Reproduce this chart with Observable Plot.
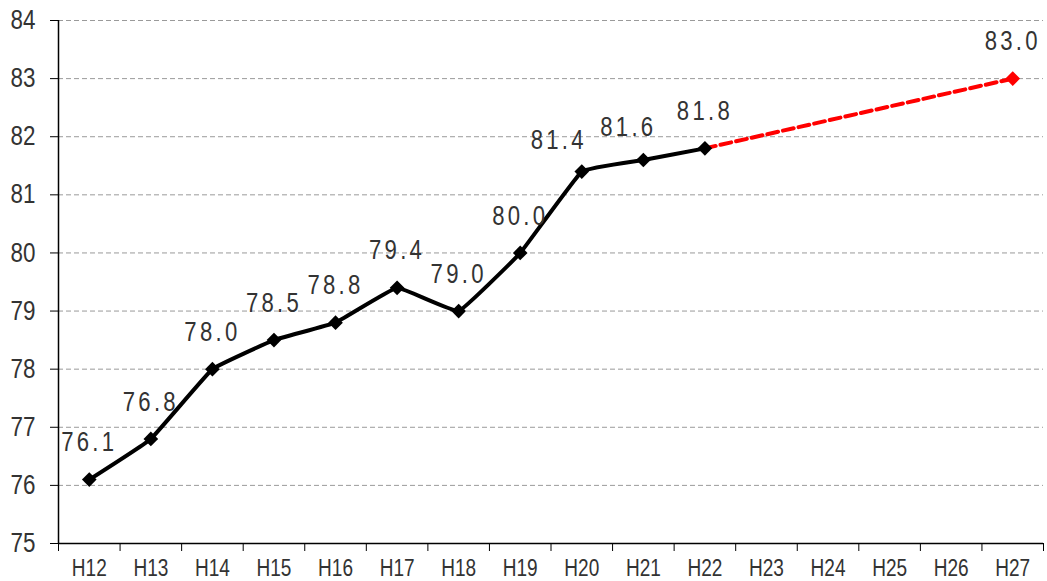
<!DOCTYPE html>
<html>
<head>
<meta charset="utf-8">
<script src="https://cdn.jsdelivr.net/npm/d3@7"></script>
<script src="https://cdn.jsdelivr.net/npm/@observablehq/plot@0.6"></script>
<style>
  html, body { margin: 0; padding: 0; background: #fff; }
  #chart svg { display: block; }
  .ylab text { font-family: "Liberation Sans", Arial, sans-serif; font-size: 27px; fill: #333; }
  .xlab text { font-family: "Liberation Sans", Arial, sans-serif; font-size: 23.5px; fill: #333; }
  .vlab text { font-family: "Liberation Sans", Arial, sans-serif; font-size: 27px; fill: #333; letter-spacing: 4px; }
</style>
</head>
<body>
<div id="chart"></div>
<script>
const years = ["H12","H13","H14","H15","H16","H17","H18","H19","H20","H21","H22","H23","H24","H25","H26","H27"];
const actualYears = ["H12","H13","H14","H15","H16","H17","H18","H19","H20","H21","H22"];
const actualValues = [76.1, 76.8, 78.0, 78.5, 78.8, 79.4, 79.0, 80.0, 81.4, 81.6, 81.8];
const targetYears = ["H22","H27"];
const targetValues = [81.8, 83.0];
const yTicks = [75, 76, 77, 78, 79, 80, 81, 82, 83, 84];

const actual = actualYears.map((k, i) => ({i: years.indexOf(k), v: actualValues[i], k}));
const target = targetYears.map((k, i) => ({i: years.indexOf(k), v: targetValues[i], k}));
const targetEnd = target.slice(1);
const idx = d3.range(years.length);
const bounds = d3.range(years.length + 1).map(i => i - 0.5);
const fmt = d => d.v.toFixed(1);

const chart = Plot.plot({
  width: 1047,
  height: 581,
  marginLeft: 58,
  marginRight: 4,
  marginTop: 20,
  marginBottom: 38,
  x: {type: "linear", domain: [-0.5, years.length - 0.5]},
  y: {domain: [75, 84]},
  marks: [
    Plot.ruleY(yTicks.slice(1), {stroke: "#9a9a9a", strokeDasharray: "5,3", strokeWidth: 1}),
    Plot.axisY({ticks: yTicks, tickSize: 8, tickPadding: 15, stroke: "#000", className: "ylab", label: null, tickFormat: d => String(d)}),
    Plot.axisX({ticks: idx, tickSize: 0, tickPadding: 16, className: "xlab", label: null, tickFormat: i => years[i]}),
    Plot.axisX({ticks: bounds, tickSize: 8, tickFormat: () => "", label: null, stroke: "#000"}),
    Plot.ruleX([-0.5], {stroke: "#000", strokeWidth: 1.5}),
    Plot.ruleY([75], {stroke: "#000", strokeWidth: 1.5}),
    Plot.line(target, {x: "i", y: "v", stroke: "#ff0000", strokeWidth: 4, strokeDasharray: "11,5"}),
    Plot.line(actual, {x: "i", y: "v", stroke: "#000", strokeWidth: 4, curve: "cardinal", tension: 0.75}),
    Plot.dot(actual, {x: "i", y: "v", symbol: "diamond2", r: 6.6, fill: "#000"}),
    Plot.dot(targetEnd, {x: "i", y: "v", symbol: "diamond2", r: 6.6, fill: "#ff0000"}),
    Plot.text(actual.filter(d => d.k !== "H20" && d.k !== "H21"), {x: "i", y: "v", text: fmt, dy: -37, className: "vlab"}),
    Plot.text(actual.filter(d => d.k === "H20"), {x: "i", y: "v", text: fmt, dx: -23, dy: -31, className: "vlab"}),
    Plot.text(actual.filter(d => d.k === "H21"), {x: "i", y: "v", text: fmt, dx: -15, dy: -33, className: "vlab"}),
    Plot.text(targetEnd, {x: "i", y: "v", text: fmt, dy: -37, className: "vlab"})
  ]
});

// Condense glyphs horizontally about each text's own anchor point
function condense(sel, s) {
  chart.querySelectorAll(sel).forEach(t => {
    const tr = t.getAttribute("transform") || "";
    t.setAttribute("transform", `${tr} scale(${s},1)`);
  });
}
condense(".ylab text", 0.83);
condense(".xlab text", 0.81);
condense(".vlab text", 0.82);

document.getElementById("chart").appendChild(chart);
</script>
</body>
</html>
